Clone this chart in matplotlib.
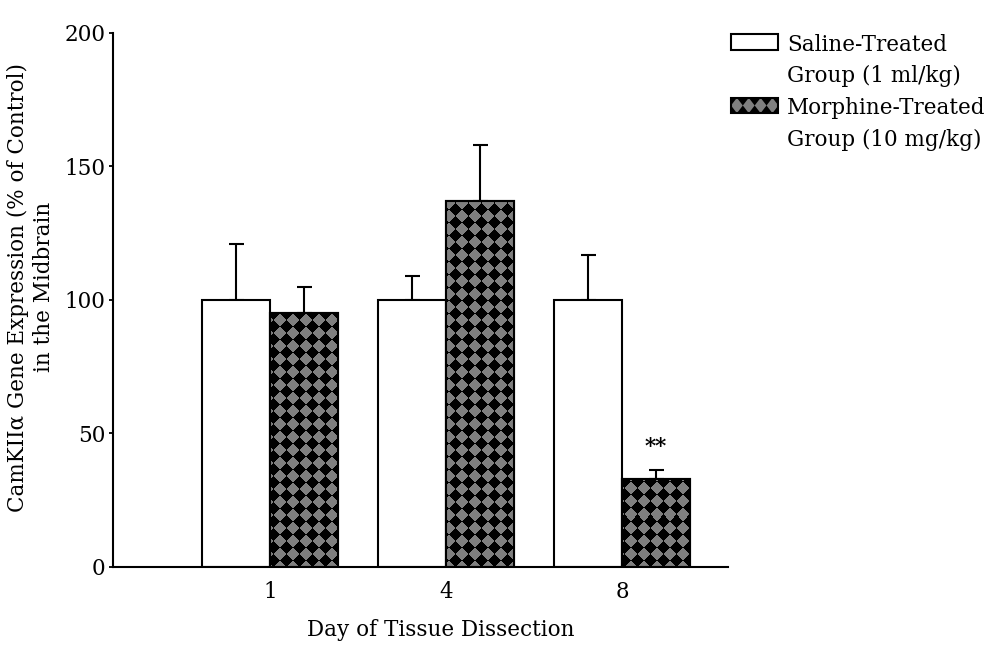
import numpy as np
import matplotlib
matplotlib.use('Agg')
import matplotlib.pyplot as plt
from matplotlib.colors import ListedColormap
from matplotlib.patches import Rectangle, Polygon
from matplotlib.legend_handler import HandlerBase

# ---------------- data ----------------
days = ['1', '4', '8']
saline_mean = [100, 100, 100]
saline_sem = [21, 9, 17]
morphine_mean = [95, 137, 33]
morphine_sem = [10, 21, 3.5]
significance = ['', '', '**']
series_labels = ['Saline-Treated\nGroup (1 ml/kg)', 'Morphine-Treated\nGroup (10 mg/kg)']
y_ticks = [0, 50, 100, 150, 200]
x_label = 'Day of Tissue Dissection'
y_label = 'CamKII\u03b1 Gene Expression (% of Control)\nin the Midbrain'

# ---------------- style ----------------
plt.rcParams['font.family'] = ['DejaVu Serif']
FS = 15.5
GRAY = '#7f7f7f'

W_PX, H_PX = 1000, 646
fig = plt.figure(figsize=(W_PX / 100, H_PX / 100), dpi=100)
ax_left, ax_bottom, ax_w, ax_h = 0.113, 0.1223, 0.615, 0.8267
ax = fig.add_axes([ax_left, ax_bottom, ax_w, ax_h])

x = np.arange(len(days))
bw = 0.386
xs = x - bw / 2
xm = x + bw / 2

ax.set_xlim(-0.892, 2.602)
ax.set_ylim(0, 200)

bars_s = ax.bar(xs, saline_mean, bw, facecolor='white', edgecolor='black',
                linewidth=1.5, zorder=2)
bars_m = ax.bar(xm, morphine_mean, bw, facecolor=GRAY, edgecolor='black',
                linewidth=1.5, zorder=2)

# diamond (rotated checkerboard) fill for the morphine bars
aw = int(round(ax_w * W_PX))
ah = int(round(ax_h * H_PX))
cols = np.arange(aw) + ax_left * W_PX
rows = np.arange(ah) + (1 - ax_bottom - ax_h) * H_PX
X, Y = np.meshgrid(cols, rows)
c = 13.0
dx = X - 455.0
dy = Y - 209.0
u = np.floor((dx + dy) / c + 0.5)
v = np.floor((dx - dy) / c + 0.5)
pattern = ((u + v) % 2).astype(float)
cmap = ListedColormap(['black', GRAY])
xl, yl = ax.get_xlim(), ax.get_ylim()
for b in bars_m:
    im = ax.imshow(pattern, cmap=cmap, vmin=0, vmax=1, interpolation='nearest',
                   extent=[xl[0], xl[1], yl[0], yl[1]], origin='upper',
                   aspect='auto', zorder=2.1)
    im.set_clip_path(b)
ax.set_xlim(xl)
ax.set_ylim(yl)
ax.bar(xm, morphine_mean, bw, fill=False, edgecolor='black', linewidth=1.5, zorder=3)

zeros = [0] * len(days)
ax.errorbar(xs, saline_mean, yerr=[zeros, saline_sem], fmt='none', ecolor='black',
            elinewidth=1.5, capsize=5.4, capthick=1.5, zorder=1.5)
ax.errorbar(xm, morphine_mean, yerr=[zeros, morphine_sem], fmt='none', ecolor='black',
            elinewidth=1.5, capsize=5.4, capthick=1.5, zorder=1.5)

for xi, m, e, s in zip(xm, morphine_mean, morphine_sem, significance):
    if s:
        ax.annotate(s, (xi, m + e), xytext=(0, 8), textcoords='offset points',
                    ha='center', va='bottom', fontsize=FS, fontweight='bold')

# axes styling
for sp in ['top', 'right']:
    ax.spines[sp].set_visible(False)
for sp in ['left', 'bottom']:
    ax.spines[sp].set_linewidth(1.5)
ax.set_yticks(y_ticks)
ax.set_xticks(x)
ax.set_xticklabels(days)
ax.tick_params(axis='y', direction='out', length=3, width=1.3, pad=2.5, labelsize=FS)
ax.tick_params(axis='x', length=0, pad=10, labelsize=FS)

ax.set_xlabel(x_label, fontsize=FS)
ax.xaxis.set_label_coords(0.533, -0.097)
ax.set_ylabel(y_label, fontsize=FS, linespacing=1.2)
ax.yaxis.set_label_coords(-0.095, 0.524)


# legend
class SwatchHandler(HandlerBase):
    def __init__(self, patterned, shift):
        super().__init__()
        self.patterned = patterned
        self.shift = shift

    def create_artists(self, legend, orig_handle, xdescent, ydescent, width,
                       height, fontsize, trans):
        x0, y0 = -xdescent, -ydescent + self.shift
        arts = []
        if self.patterned:
            arts.append(Rectangle((x0, y0), width, height, facecolor='black',
                                  edgecolor='none', transform=trans))
            n = 4
            step = width / n
            cy = y0 + height / 2
            for k in range(n):
                cx = x0 + step * (k + 0.5)
                arts.append(Polygon([[cx - step / 2, cy], [cx, cy + height / 2],
                                     [cx + step / 2, cy], [cx, cy - height / 2]],
                                    closed=True, facecolor=GRAY, edgecolor='none',
                                    transform=trans))
        arts.append(Rectangle((x0, y0), width, height,
                              facecolor='none' if self.patterned else 'white',
                              edgecolor='black', linewidth=1.5, transform=trans))
        return arts


shift = 14.0
leg = fig.legend([bars_s, bars_m], series_labels, loc='upper left',
                 bbox_to_anchor=(0.731, 0.948), frameon=False, fontsize=FS,
                 handlelength=2.2, handleheight=0.72, handletextpad=0.4,
                 labelspacing=0.47, borderpad=0, borderaxespad=0,
                 handler_map={bars_s: SwatchHandler(False, shift),
                              bars_m: SwatchHandler(True, shift)})
for t in leg.get_texts():
    t.set_linespacing(1.55)

fig.savefig('out.png', dpi=100)
